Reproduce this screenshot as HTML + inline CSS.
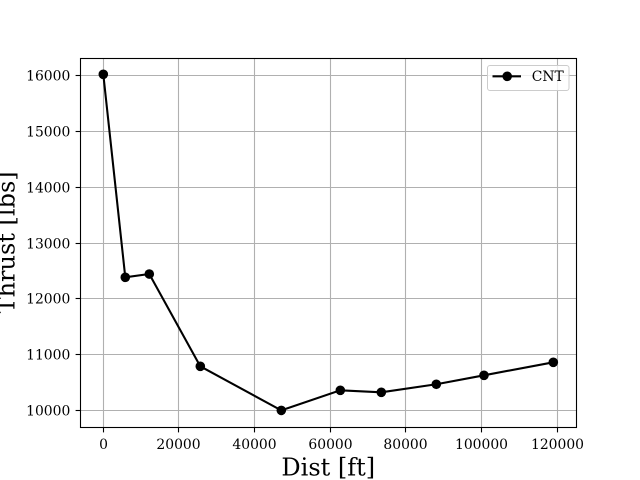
<!DOCTYPE html>
<html>
<head>
<meta charset="utf-8">
<title>Thrust vs Dist</title>
<style>
html,body{margin:0;padding:0;background:#fff;width:640px;height:480px;overflow:hidden}
svg{display:block}
text{font-family:"DejaVu Serif","Liberation Serif",serif;fill:#000}
</style>
</head>
<body>
<svg id="chart" xmlns="http://www.w3.org/2000/svg" width="640" height="480" viewBox="0 0 640 480">
  <rect x="0" y="0" width="640" height="480" fill="#fff"/>
  <rect x="80" y="58" width="496" height="369.5" fill="#fff"/>
  <g id="grid"></g>
  <g id="series"></g>
  <rect x="80.5" y="58.5" width="496" height="369" fill="none" stroke="#000" stroke-width="1.1"/>
  <g id="ticks"></g>
  <text x="328.3" y="475.3" font-size="24" text-anchor="middle">Dist [ft]</text>
  <text transform="translate(14.3,242.4) rotate(-90)" font-size="24" text-anchor="middle">Thrust [lbs]</text>
  <g>
    <rect x="487.5" y="65.5" width="81.5" height="25" rx="2.5" fill="#fff" fill-opacity="0.8" stroke="#ccc" stroke-width="1"/>
    <line x1="492.5" y1="76.3" x2="521" y2="76.3" stroke="#000" stroke-width="2.08"/>
    <circle cx="507.2" cy="76.3" r="4.8" fill="#000"/>
    <text x="531.8" y="81" font-size="13.89">CNT</text>
  </g>
</svg>
<script>
const distances = [0, 5810, 12150, 25630, 47030, 62620, 73450, 87980, 100580, 118890];
const thrustValues = [16023, 12385, 12444, 10790, 10000, 10360, 10324, 10468, 10629, 10862];
const xTickValues = [0, 20000, 40000, 60000, 80000, 100000, 120000];
const yTickValues = [10000, 11000, 12000, 13000, 14000, 15000, 16000];

const NS = 'http://www.w3.org/2000/svg';
const plotLeft = 80.5, plotRight = 576.5, plotTop = 58.5, plotBottom = 427.5;

function scaleX(v) { return 103.3 + v * (75.7 / 20000); }
function scaleY(v) { return 410.4 - (v - 10000) * (55.8 / 1000); }
function snapX(v) { return Math.floor(scaleX(v) - 0.3) + 0.5; }
function snapY(v) { return Math.floor(scaleY(v)) + 0.5; }

const gridGroup = document.getElementById('grid');
const tickGroup = document.getElementById('ticks');
const seriesGroup = document.getElementById('series');

function makeLine(x1, y1, x2, y2, color, width) {
  const l = document.createElementNS(NS, 'line');
  l.setAttribute('x1', x1);
  l.setAttribute('y1', y1);
  l.setAttribute('x2', x2);
  l.setAttribute('y2', y2);
  l.setAttribute('stroke', color);
  l.setAttribute('stroke-width', width);
  return l;
}

xTickValues.forEach(function (v) {
  const x = snapX(v);
  const g = makeLine(x, plotTop, x, plotBottom, '#b0b0b0', 1.1);
  
  
  gridGroup.appendChild(g);
  const t = makeLine(x, plotBottom, x, plotBottom + 4.9, '#000', 1.1);
  
  
  tickGroup.appendChild(t);
  const label = document.createElementNS(NS, 'text');
  
  
  label.setAttribute('x', x);
  label.setAttribute('y', plotBottom + 21.3);
  label.setAttribute('font-size', '13.89');
  label.setAttribute('text-anchor', 'middle');
  label.textContent = String(v);
  tickGroup.appendChild(label);
});

yTickValues.forEach(function (v) {
  const y = snapY(v);
  const g = makeLine(plotLeft, y, plotRight, y, '#b0b0b0', 1.1);
  
  
  gridGroup.appendChild(g);
  const t = makeLine(plotLeft - 4.9, y, plotLeft, y, '#000', 1.1);
  
  
  tickGroup.appendChild(t);
  const label = document.createElementNS(NS, 'text');
  
  
  label.setAttribute('x', plotLeft - 10.2);
  label.setAttribute('y', y + 5.1);
  label.setAttribute('font-size', '13.89');
  label.setAttribute('text-anchor', 'end');
  label.textContent = String(v);
  tickGroup.appendChild(label);
});

const pathPoints = distances.map(function (d, i) {
  return scaleX(d) + ',' + scaleY(thrustValues[i]);
}).join(' ');
const polyline = document.createElementNS(NS, 'polyline');


polyline.setAttribute('points', pathPoints);
polyline.setAttribute('fill', 'none');
polyline.setAttribute('stroke', '#000');
polyline.setAttribute('stroke-width', '2.08');
seriesGroup.appendChild(polyline);

distances.forEach(function (d, i) {
  const c = document.createElementNS(NS, 'circle');
  
  
  c.setAttribute('cx', scaleX(d));
  c.setAttribute('cy', scaleY(thrustValues[i]));
  c.setAttribute('r', '4.8');
  c.setAttribute('fill', '#000');
  seriesGroup.appendChild(c);
});
</script>
</body>
</html>
